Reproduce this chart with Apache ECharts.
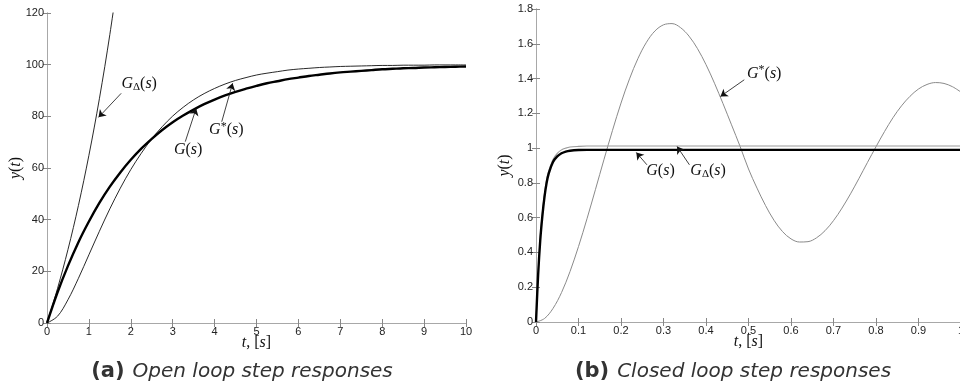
<!DOCTYPE html>
<html>
<head>
<meta charset="utf-8">
<script src="https://cdn.jsdelivr.net/npm/echarts@6/dist/echarts.min.js"></script>
<style>
  html, body { margin: 0; padding: 0; background: #fff; }
  #chart { width: 960px; height: 387px; }
</style>
</head>
<body>
<div id="chart"></div>
<script>
// (a) open loop, time in s
const tOpen = [0, 0.25, 0.5, 0.75, 1, 1.25, 1.5, 1.75, 2, 2.25, 2.5, 2.75, 3, 3.25, 3.5, 3.75, 4, 4.25, 4.5, 4.75,
  5, 5.25, 5.5, 5.75, 6, 6.25, 6.5, 6.75, 7, 7.25, 7.5, 7.75, 8, 8.25, 8.5, 8.75, 9, 9.25, 9.5, 9.75, 10];
const gOpen = [0, 11.8, 22.1, 31.3, 39.3, 46.5, 52.8, 58.3, 63.2, 67.5, 71.3, 74.7, 77.7, 80.3, 82.6, 84.7, 86.5, 88.1, 89.5, 90.7,
  91.8, 92.8, 93.6, 94.4, 95.0, 95.6, 96.1, 96.6, 97.0, 97.3, 97.6, 97.9, 98.2, 98.4, 98.6, 98.7, 98.9, 99.0, 99.1, 99.2, 99.3];
const gStarOpen = [0, 2.6, 9.0, 17.3, 26.4, 35.5, 44.2, 52.2, 59.4, 65.7, 71.3, 76.0, 80.1, 83.5, 86.4, 88.8, 90.8, 92.5, 93.9, 95.0,
  96.0, 96.7, 97.3, 97.9, 98.3, 98.6, 98.9, 99.1, 99.3, 99.4, 99.5, 99.6, 99.7, 99.7, 99.8, 99.8, 99.8, 99.9, 99.9, 99.9, 99.9];
const tDeltaOpen = [0, 0.25, 0.5, 0.75, 1, 1.25, 1.5, 1.75];
const gDeltaOpen = [0, 13.3, 28.4, 45.5, 64.9, 86.8, 111.7, 139.9];

// (b) closed loop
const tFast = [0, 0.005, 0.01, 0.015, 0.02, 0.025, 0.03, 0.04, 0.05, 0.06, 0.07, 0.08, 0.1, 0.12, 0.15, 0.2,
  0.3, 0.4, 0.5, 0.6, 0.7, 0.8, 0.9, 1.0];
const gClosed = [0, 0.27, 0.47, 0.61, 0.72, 0.8, 0.855, 0.92, 0.952, 0.97, 0.98, 0.985, 0.989, 0.99, 0.99, 0.99,
  0.99, 0.99, 0.99, 0.99, 0.99, 0.99, 0.99, 0.99];
const gDeltaClosed = [0, 0.28, 0.49, 0.63, 0.74, 0.82, 0.87, 0.935, 0.97, 0.99, 1.0, 1.006, 1.01, 1.012, 1.012, 1.012,
  1.012, 1.012, 1.012, 1.012, 1.012, 1.012, 1.012, 1.012];
const tStar = [0, 0.02, 0.04, 0.06, 0.08, 0.1, 0.12, 0.14, 0.16, 0.18, 0.2, 0.22, 0.24, 0.26, 0.28, 0.3, 0.32, 0.34,
  0.36, 0.38, 0.4, 0.42, 0.44, 0.46, 0.48, 0.5, 0.52, 0.54, 0.56, 0.58, 0.6, 0.62, 0.64, 0.66, 0.68, 0.7, 0.72,
  0.74, 0.76, 0.78, 0.8, 0.82, 0.84, 0.86, 0.88, 0.9, 0.92, 0.94, 0.96, 0.98, 1.0];
const gStarClosed = [0, 0.02, 0.078, 0.169, 0.29, 0.434, 0.594, 0.763, 0.935, 1.102, 1.259, 1.398, 1.516, 1.609,
  1.674, 1.709, 1.716, 1.693, 1.644, 1.572, 1.48, 1.373, 1.256, 1.134, 1.011, 0.88, 0.77, 0.67, 0.585, 0.52,
  0.478, 0.46, 0.462, 0.484, 0.525, 0.583, 0.655, 0.737, 0.826, 0.918, 1.008, 1.095, 1.175, 1.243, 1.298,
  1.34, 1.366, 1.377, 1.372, 1.353, 1.322];

// arrow annotations in data coordinates: [from, to, label position, label]
const notesOpen = [
  [[1.77, 88.9], [1.23, 79.6], [2.2, 92.7], '{g|G}{d|Δ}{p|(}{g|s}{p|)}'],
  [[3.30, 70.2], [3.56, 83.1], [3.37, 67], '{g|G}{p|(}{g|s}{p|)}'],
  [[4.17, 77.9], [4.43, 92.8], [4.28, 74.7], '{g|G}{u|*}{p|(}{g|s}{p|)}']
];
const notesClosed = [
  [[0.261, 0.904], [0.236, 0.975], [0.293, 0.869], '{g|G}{p|(}{g|s}{p|)}'],
  [[0.361, 0.904], [0.332, 1.009], [0.405, 0.869], '{g|G}{d|Δ}{p|(}{g|s}{p|)}'],
  [[0.49, 1.393], [0.434, 1.297], [0.537, 1.43], '{g|G}{u|*}{p|(}{g|s}{p|)}']
];

const pairs = (xs, ys) => xs.map((x, i) => [x, ys[i]]);

const mathRich = {
  g: { fontFamily: 'Liberation Serif', fontStyle: 'italic', fontSize: 16, lineHeight: 18, color: '#111' },
  p: { fontFamily: 'Liberation Serif', fontSize: 16, lineHeight: 18, color: '#111' },
  d: { fontFamily: 'Liberation Serif', fontSize: 11, lineHeight: 10, verticalAlign: 'bottom', color: '#111' },
  u: { fontFamily: 'Liberation Serif', fontSize: 12, lineHeight: 10, verticalAlign: 'top', color: '#111' }
};

const axisGray = '#a8a8a8';
const tickLabel = { fontFamily: 'Liberation Sans', fontSize: 11, color: '#222' };

function frameAxes(gridIndex, xMin, xMax, xStep, yMin, yMax, yStep, xName, yName) {
  const base = {
    gridIndex: gridIndex,
    type: 'value',
    axisLine: { show: true, lineStyle: { color: axisGray, width: 1 } },
    axisTick: { show: true, inside: true, length: 4, lineStyle: { color: '#888' } },
    splitLine: { show: false }
  };
  const x = [
    Object.assign({}, base, {
      position: 'bottom', min: xMin, max: xMax, interval: xStep,
      axisLabel: Object.assign({ margin: 3, hideOverlap: false }, tickLabel),
      name: xName, nameLocation: 'middle', nameGap: 11, nameMoveOverlap: false,
      nameTextStyle: { rich: mathRich }
    }),
    Object.assign({}, base, { position: 'top', min: xMin, max: xMax, interval: xStep, axisLabel: { show: false } })
  ];
  const y = [
    Object.assign({}, base, {
      position: 'left', min: yMin, max: yMax, interval: yStep,
      axisLabel: Object.assign({ margin: 3 }, tickLabel),
      name: yName, nameLocation: 'middle', nameRotate: 90, nameGap: 22, nameMoveOverlap: false,
      nameTextStyle: { rich: mathRich }
    }),
    Object.assign({}, base, { position: 'right', min: yMin, max: yMax, interval: yStep, axisLabel: { show: false } })
  ];
  return { x: x, y: y };
}

function notes(list) {
  return {
    markLine: {
      silent: true,
      symbol: ['none', 'arrow'],
      symbolSize: 7,
      label: { show: false },
      lineStyle: { color: '#111', width: 0.8, type: 'solid' },
      itemStyle: { color: '#111' },
      data: list.map(n => [{ coord: n[0] }, { coord: n[1] }])
    },
    markPoint: {
      silent: true,
      symbol: 'circle',
      symbolSize: 1,
      itemStyle: { color: 'rgba(0,0,0,0)' },
      label: { show: true, position: 'inside', rich: mathRich, formatter: p => p.data.text },
      data: list.map(n => ({ coord: n[2], text: n[3] }))
    }
  };
}

function line(xi, yi, data, color, width, extra) {
  return Object.assign({
    type: 'line',
    xAxisIndex: xi,
    yAxisIndex: yi,
    data: data,
    showSymbol: false,
    smooth: 0.35,
    clip: true,
    lineStyle: { color: color, width: width }
  }, extra || {});
}

const chart = echarts.init(document.getElementById('chart'));
const yName = '{g|y}{p|(}{g|t}{p|)}';
const tName = '{g|t}{p|, [}{g|s}{p|]}';
const a = frameAxes(0, 0, 10, 1, 0, 120, 20, tName, yName);
const b = frameAxes(1, 0, 1, 0.1, 0, 1.8, 0.2, tName, yName);

const captionRich = {
  b: { fontFamily: 'DejaVu Sans', fontWeight: 'bold', fontSize: 21, fill: '#333', padding: [0, 8, 0, 0] },
  i: { fontFamily: 'DejaVu Sans', fontStyle: 'italic', fontSize: 20, fill: '#333' }
};

chart.setOption({
  animation: false,
  backgroundColor: '#fff',
  grid: [
    { left: 47, top: 13, width: 419, height: 310, outerBoundsMode: 'none' },
    { left: 536, top: 9, width: 425, height: 313, outerBoundsMode: 'none' }
  ],
  xAxis: a.x.concat(b.x),
  yAxis: a.y.concat(b.y),
  series: [
    line(0, 0, pairs(tOpen, gStarOpen), '#111', 0.9),
    line(0, 0, pairs(tDeltaOpen, gDeltaOpen), '#111', 0.9),
    line(0, 0, pairs(tOpen, gOpen), '#000', 2.4, notes(notesOpen)),
    line(2, 2, pairs(tStar, gStarClosed), '#8a8a8a', 1),
    line(2, 2, pairs(tFast, gDeltaClosed), '#9a9a9a', 1.1),
    line(2, 2, pairs(tFast, gClosed), '#000', 2.4, notes(notesClosed))
  ],
  graphic: [
    {
      type: 'text', x: 242, y: 372,
      style: {
        text: '{b|(a)}{i|Open loop step responses}',
        align: 'center', verticalAlign: 'middle', rich: captionRich
      }
    },
    {
      type: 'text', x: 733, y: 372,
      style: {
        text: '{b|(b)}{i|Closed loop step responses}',
        align: 'center', verticalAlign: 'middle', rich: captionRich
      }
    }
  ]
});

window.onresize = function() {
  chart.resize();
};
</script>
</body>
</html>
